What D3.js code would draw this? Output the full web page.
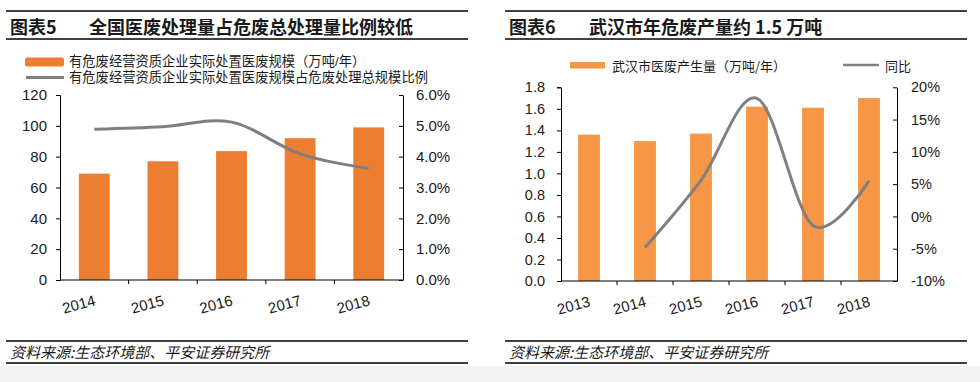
<!DOCTYPE html>
<html>
<head>
<meta charset="utf-8">
<script src="https://cdn.jsdelivr.net/npm/d3@7/dist/d3.min.js"></script>
<style>
  html, body { margin: 0; padding: 0; background: #fff; }
  svg { display: block; }
</style>
</head>
<body>
<svg id="chart" width="980" height="382"></svg>
<script>
// ---------- DATA ----------
const years5 = ["2014", "2015", "2016", "2017", "2018"];
const scale5 = [69, 77, 83.6, 92, 99];              // 万吨/年
const ratio5 = [4.89, 4.97, 5.12, 4.09, 3.62];      // %
const leftTicks5 = [0, 20, 40, 60, 80, 100, 120];
const rightTicks5 = [0, 1, 2, 3, 4, 5, 6];

const years6 = ["2013", "2014", "2015", "2016", "2017", "2018"];
const output6 = [1.36, 1.30, 1.37, 1.62, 1.61, 1.70]; // 万吨/年
const yoy6 = [null, -4.8, 5.6, 18.3, -1.4, 5.5];      // %
const leftTicks6 = [0, 0.2, 0.4, 0.6, 0.8, 1.0, 1.2, 1.4, 1.6, 1.8];
const rightTicks6 = [-10, -5, 0, 5, 10, 15, 20];

const title5 = ["图表5", "全国医废处理量占危废总处理量比例较低"];
const title6 = ["图表6", "武汉市年危废产量约 1.5 万吨"];
const legend5 = ["有危废经营资质企业实际处置医废规模（万吨/年）", "有危废经营资质企业实际处置医废规模占危废处理总规模比例"];
const legend6 = ["武汉市医废产生量（万吨/年）", "同比"];
const source = "资料来源:生态环境部、平安证券研究所";

// ---------- STYLE ----------
const CJK = "'Noto Sans CJK SC', 'Liberation Sans', sans-serif";
const LEG = "'Liberation Sans', 'Noto Sans CJK SC', sans-serif";
const NUM = "'Liberation Sans', Arial, 'Noto Sans CJK SC', sans-serif";
const orange5 = "#ED7D31";
const orange6 = "#F79646";
const gray = "#7F7F7F";
const txt = "#1a1a1a";

const svg = d3.select("#chart");
svg.append("rect").attr("x", 0).attr("y", 0).attr("width", 980).attr("height", 382).attr("fill", "#fff");
svg.append("rect").attr("x", 0).attr("y", 366).attr("width", 980).attr("height", 16).attr("fill", "#f2f2f2");

function frame(x0, x1, titleX, titleX2, title) {
  const g = svg.append("g");
  [11, 39, 341, 363].forEach(y => {
    g.append("line").attr("x1", x0).attr("x2", x1).attr("y1", y).attr("y2", y)
      .attr("stroke", "#000").attr("stroke-width", 1.5);
  });
  g.append("text").attr("x", titleX).attr("y", 33.5).attr("font-family", CJK)
    .attr("font-weight", "bold").attr("font-size", 18).attr("fill", txt).text(title[0]);
  g.append("text").attr("x", titleX2).attr("y", 33.5).attr("font-family", CJK)
    .attr("font-weight", "bold").attr("font-size", 18).attr("fill", txt).text(title[1]);
  g.append("text").attr("x", titleX).attr("y", 358).attr("font-family", CJK)
    .attr("font-style", "italic").attr("font-size", 15).attr("fill", txt).text(source);
}

function xLabels(g, x, years, yPos) {
  years.forEach(yr => {
    const cx = x(yr) + x.bandwidth() / 2 + 2;
    g.append("text").attr("transform", `translate(${cx},${yPos}) rotate(-15)`)
      .attr("text-anchor", "end").attr("font-family", NUM).attr("font-size", 15)
      .attr("fill", txt).text(yr);
  });
}

// ---------- CHART 5 ----------
frame(6, 468, 10, 89, title5);
{
  const g = svg.append("g");
  const x = d3.scaleBand().domain(years5).range([60, 403]).paddingInner(0.55).paddingOuter(0.275);
  const y = d3.scaleLinear().domain([0, 120]).range([280, 95]);
  const y2 = d3.scaleLinear().domain([0, 6]).range([280, 95]);

  // legend
  g.append("rect").attr("x", 25).attr("y", 57.5).attr("width", 39).attr("height", 9).attr("rx", 2).attr("fill", orange5);
  g.append("line").attr("x1", 26).attr("x2", 64).attr("y1", 77.5).attr("y2", 77.5).attr("stroke", gray).attr("stroke-width", 3);
  g.append("text").attr("x", 69).attr("y", 66).attr("font-family", LEG)
    .attr("font-size", 13.3).attr("fill", txt).text(legend5[0]);
  g.append("text").attr("x", 69).attr("y", 82).attr("font-family", LEG)
    .attr("font-size", 13.3).attr("fill", txt).text(legend5[1]);

  // bars
  g.selectAll(".bar").data(years5).enter().append("rect")
    .attr("x", d => x(d)).attr("width", x.bandwidth())
    .attr("y", (d, i) => y(scale5[i])).attr("height", (d, i) => y(0) - y(scale5[i]))
    .attr("fill", orange5);

  // axes
  const ax = g.append("g").attr("transform", "translate(60,0)")
    .call(d3.axisLeft(y).tickValues(leftTicks5).tickSize(4).tickPadding(9).tickFormat(d3.format("d")));
  const ax2 = g.append("g").attr("transform", "translate(403,0)")
    .call(d3.axisRight(y2).tickValues(rightTicks5).tickSizeInner(-4).tickSizeOuter(0).tickPadding(13).tickFormat(d => d.toFixed(1) + "%"));
  [ax, ax2].forEach(a => {
    a.select(".domain").attr("stroke", "#000");
    a.selectAll(".tick line").attr("stroke", "#000");
    a.selectAll("text").attr("font-family", NUM).attr("font-size", 15).attr("fill", txt);
  });
  // x axis line & boundary ticks
  g.append("line").attr("x1", 60).attr("x2", 403).attr("y1", 280).attr("y2", 280).attr("stroke", "#000");
  years5.forEach((yr, i) => {
    if (i === 0) return;
    const bx = x(yr) - x.step() * x.paddingInner() / 2;
    g.append("line").attr("x1", bx).attr("x2", bx).attr("y1", 280).attr("y2", 284).attr("stroke", "#000");
  });
  xLabels(g, x, years5, 305);

  // line
  const line = d3.line().x((d, i) => x(years5[i]) + x.bandwidth() / 2).y(d => y2(d)).curve(d3.curveCardinal.tension(0));
  g.append("path").datum(ratio5).attr("d", line).attr("fill", "none").attr("stroke", gray).attr("stroke-width", 3);
}

// ---------- CHART 6 ----------
frame(505, 967, 509, 589, title6);
{
  const g = svg.append("g");
  const x = d3.scaleBand().domain(years6).range([561, 897]).paddingInner(0.61).paddingOuter(0.305);
  const y = d3.scaleLinear().domain([0, 1.8]).range([281, 87.3]);
  const y2 = d3.scaleLinear().domain([-10, 20]).range([281, 87.3]);

  // legend
  g.append("rect").attr("x", 570).attr("y", 62).attr("width", 35).attr("height", 6.5).attr("fill", orange6);
  g.append("line").attr("x1", 843).attr("x2", 879).attr("y1", 65).attr("y2", 65).attr("stroke", gray).attr("stroke-width", 2.5);
  g.append("text").attr("x", 612).attr("y", 65).attr("dominant-baseline", "central").attr("font-family", CJK)
    .attr("font-size", 13).attr("fill", txt).text(legend6[0]);
  g.append("text").attr("x", 885).attr("y", 65).attr("dominant-baseline", "central").attr("font-family", CJK)
    .attr("font-size", 13).attr("fill", txt).text(legend6[1]);

  // bars
  g.selectAll(".bar").data(years6).enter().append("rect")
    .attr("x", d => x(d)).attr("width", x.bandwidth())
    .attr("y", (d, i) => y(output6[i])).attr("height", (d, i) => y(0) - y(output6[i]))
    .attr("fill", orange6);

  const ax = g.append("g").attr("transform", "translate(561,0)")
    .call(d3.axisLeft(y).tickValues(leftTicks6).tickSize(4).tickPadding(12).tickFormat(d3.format(".1f")));
  const ax2 = g.append("g").attr("transform", "translate(897,0)")
    .call(d3.axisRight(y2).tickValues(rightTicks6).tickSizeInner(-4).tickSizeOuter(0).tickPadding(14).tickFormat(d => d + "%"));
  [ax, ax2].forEach(a => {
    a.select(".domain").attr("stroke", "#000");
    a.selectAll(".tick line").attr("stroke", "#000");
    a.selectAll("text").attr("font-family", NUM).attr("font-size", 14.5).attr("fill", txt);
  });
  g.append("line").attr("x1", 561).attr("x2", 897).attr("y1", 281).attr("y2", 281).attr("stroke", "#000");
  years6.forEach((yr, i) => {
    if (i === 0) return;
    const bx = x(yr) - x.step() * x.paddingInner() / 2;
    g.append("line").attr("x1", bx).attr("x2", bx).attr("y1", 281).attr("y2", 285).attr("stroke", "#000");
  });
  xLabels(g, x, years6, 306);

  const pts = yoy6.map((v, i) => ({ v, yr: years6[i] })).filter(d => d.v !== null);
  const line = d3.line().x(d => x(d.yr) + x.bandwidth() / 2).y(d => y2(d.v)).curve(d3.curveCardinal.tension(0));
  g.append("path").datum(pts).attr("d", line).attr("fill", "none").attr("stroke", gray).attr("stroke-width", 3);
}
</script>
</body>
</html>
